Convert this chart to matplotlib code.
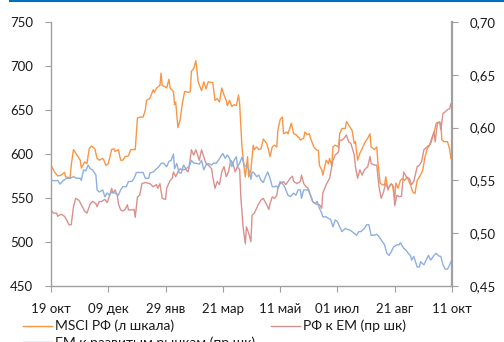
import pandas as pd
import matplotlib
matplotlib.use("Agg")
import matplotlib.pyplot as plt
from matplotlib.lines import Line2D

plt.rcParams['font.family'] = ['Lato', 'DejaVu Sans']

start = pd.Timestamp("2012-10-19")
end = pd.Timestamp("2013-10-11")

# MSCI Russia (left scale): day offset from start, value
msci_days = [0, 3, 6, 9, 12, 13, 17, 18, 20, 23, 26, 27, 30, 32, 34, 36, 39, 41, 43, 46,
             47, 49, 51, 54, 56, 57, 60, 62, 64, 66, 69, 71, 73, 75, 77, 80, 82, 84, 85,
             88, 91, 92, 94, 97, 98, 99, 102, 103, 105, 106, 109, 110, 111, 113, 115, 117,
             119, 123, 124, 125, 127, 129, 131, 134, 136, 138, 140, 144, 146, 148, 150, 152,
             154, 156, 157, 159, 161, 163, 165, 167, 168, 170, 172, 173, 175, 176, 178, 180,
             181, 183, 185, 187, 189, 192, 194, 195, 197, 199, 201, 202, 204, 206, 207, 210,
             211, 214, 216, 218, 221, 222, 225, 226, 228, 230, 231, 234, 236, 238, 239, 241,
             242, 245, 247, 248, 250, 251, 253, 256, 257, 259, 262, 263, 265, 266, 268, 270,
             271, 273, 275, 277, 279, 282, 284, 285, 288, 290, 291, 293, 295, 297, 298, 300,
             302, 304, 306, 307, 309, 311, 313, 315, 317, 320, 322, 324, 326, 329, 331, 333,
             335, 338, 340, 341, 343, 345, 347, 348, 350, 353, 355, 356]
msci_vals = [587, 580, 575, 576, 579, 574, 573, 587, 605, 599, 593, 584, 591, 589, 606, 609,
             606, 595, 593, 595, 593, 587, 589, 605, 606, 603, 605, 593, 593, 597, 598, 605,
             605, 605, 641, 642, 642, 650, 661, 663, 673, 670, 675, 678, 692, 678, 676, 675,
             685, 675, 671, 656, 659, 630, 639, 658, 671, 670, 671, 694, 697, 706, 682, 672,
             682, 674, 682, 681, 661, 663, 659, 675, 667, 661, 655, 661, 654, 656, 655, 667,
             656, 608, 584, 574, 597, 574, 582, 610, 605, 608, 605, 606, 617, 612, 603, 597,
             608, 610, 608, 627, 639, 642, 623, 625, 623, 635, 623, 622, 618, 616, 618, 625,
             622, 623, 618, 608, 605, 604, 587, 582, 576, 593, 589, 595, 586, 608, 610, 608,
             623, 629, 629, 637, 633, 631, 627, 612, 614, 593, 601, 606, 612, 618, 623, 608,
             605, 608, 591, 567, 565, 565, 574, 559, 565, 565, 548, 567, 561, 570, 572, 570,
             574, 565, 557, 555, 570, 576, 582, 597, 606, 612, 620, 624, 635, 636, 635, 616,
             614, 614, 605, 595]

# Russia vs EM (right scale)
rus_em_days = [0, 2, 5, 6, 9, 12, 14, 16, 18, 20, 22, 25, 27, 30, 32, 35, 37, 40, 41, 43,
               45, 48, 50, 52, 54, 55, 57, 59, 60, 62, 64, 66, 68, 69, 72, 74, 75, 77, 79,
               81, 84, 88, 91, 94, 95, 97, 99, 102, 103, 106, 108, 109, 111, 113, 115, 117,
               120, 122, 123, 125, 127, 129, 131, 132, 134, 137, 138, 140, 143, 144, 146, 148,
               150, 152, 154, 156, 158, 160, 162, 164, 166, 168, 169, 171, 173, 174, 176, 178,
               179, 181, 183, 185, 187, 189, 192, 194, 195, 197, 199, 201, 202, 204, 207, 209,
               211, 213, 215, 216, 219, 222, 223, 225, 227, 229, 231, 233, 236, 239, 241, 242,
               245, 247, 248, 250, 251, 253, 256, 257, 259, 261, 263, 265, 267, 270, 271, 273,
               275, 277, 279, 282, 284, 285, 288, 290, 292, 294, 296, 298, 300, 303, 305, 306,
               308, 310, 312, 314, 317, 319, 321, 323, 326, 328, 330, 332, 335, 337, 339, 341,
               342, 344, 346, 347, 349, 351, 353, 355, 356]
rus_em_vals = [0.522, 0.519, 0.519, 0.516, 0.518, 0.516, 0.5125, 0.508, 0.508, 0.525, 0.533,
               0.531, 0.527, 0.521, 0.519, 0.528, 0.530, 0.528, 0.525, 0.530, 0.530, 0.532,
               0.529, 0.535, 0.5425, 0.538, 0.541, 0.536, 0.528, 0.522, 0.521, 0.5225, 0.527,
               0.522, 0.522, 0.5225, 0.515, 0.5345, 0.536, 0.547, 0.548, 0.547, 0.544, 0.546,
               0.5425, 0.547, 0.533, 0.532, 0.5425, 0.550, 0.552, 0.558, 0.5535, 0.558, 0.561,
               0.560, 0.5605, 0.558, 0.563, 0.579, 0.574, 0.579, 0.5725, 0.569, 0.579, 0.569,
               0.566, 0.5645, 0.561, 0.5535, 0.5425, 0.549, 0.546, 0.558, 0.563, 0.5535, 0.558,
               0.569, 0.566, 0.558, 0.563, 0.560, 0.5345, 0.506, 0.490, 0.506, 0.500, 0.492,
               0.517, 0.519, 0.5235, 0.528, 0.5315, 0.533, 0.527, 0.5225, 0.528, 0.5345, 0.533,
               0.536, 0.5425, 0.547, 0.549, 0.546, 0.549, 0.552, 0.554, 0.549, 0.547, 0.549,
               0.555, 0.547, 0.544, 0.5425, 0.536, 0.530, 0.5275, 0.527, 0.5235, 0.538, 0.546,
               0.550, 0.552, 0.563, 0.569, 0.574, 0.577, 0.588, 0.588, 0.590, 0.593, 0.5865,
               0.585, 0.574, 0.563, 0.552, 0.560, 0.555, 0.560, 0.563, 0.5725, 0.566, 0.5645,
               0.5645, 0.544, 0.533, 0.539, 0.547, 0.5425, 0.547, 0.544, 0.526, 0.536, 0.5345,
               0.535, 0.558, 0.552, 0.552, 0.546, 0.549, 0.563, 0.5645, 0.568, 0.579, 0.582,
               0.5835, 0.590, 0.596, 0.5865, 0.604, 0.6055, 0.598, 0.6135, 0.615, 0.617, 0.618,
               0.6225]

# EM vs developed markets (right scale)
em_dm_days = [0, 3, 6, 8, 11, 14, 17, 20, 23, 26, 27, 29, 31, 33, 35, 37, 40, 41, 43, 46,
              48, 50, 52, 54, 57, 60, 62, 64, 67, 69, 72, 74, 76, 79, 82, 84, 87, 88, 91,
              94, 96, 98, 100, 103, 105, 107, 109, 110, 112, 114, 116, 118, 120, 123, 125,
              127, 130, 132, 134, 136, 138, 140, 143, 145, 147, 149, 151, 153, 155, 157, 159,
              161, 163, 165, 166, 168, 170, 172, 174, 176, 178, 179, 181, 183, 185, 187, 189,
              191, 193, 195, 197, 199, 201, 202, 204, 206, 208, 209, 211, 213, 216, 218, 220,
              222, 223, 225, 227, 229, 231, 233, 235, 237, 239, 241, 242, 245, 247, 249, 251,
              253, 255, 257, 259, 262, 264, 266, 268, 271, 272, 274, 276, 279, 281, 283, 285,
              288, 290, 292, 294, 297, 299, 301, 303, 305, 308, 310, 311, 314, 316, 318, 320,
              321, 323, 326, 328, 329, 332, 334, 336, 338, 341, 343, 345, 347, 349, 351, 353,
              355, 356]
em_dm_vals = [0.550, 0.5497, 0.550, 0.5465, 0.550, 0.552, 0.552, 0.5535, 0.552, 0.552, 0.550,
              0.560, 0.559, 0.5645, 0.561, 0.560, 0.555, 0.541, 0.539, 0.541, 0.5345, 0.538,
              0.536, 0.539, 0.538, 0.536, 0.541, 0.544, 0.544, 0.549, 0.549, 0.552, 0.5575,
              0.5575, 0.5575, 0.552, 0.552, 0.557, 0.558, 0.561, 0.563, 0.566, 0.5665, 0.563,
              0.568, 0.569, 0.575, 0.561, 0.566, 0.557, 0.557, 0.5645, 0.561, 0.563, 0.569,
              0.5665, 0.566, 0.5655, 0.569, 0.560, 0.5645, 0.566, 0.5645, 0.5665, 0.566, 0.569,
              0.5725, 0.5755, 0.571, 0.574, 0.571, 0.563, 0.569, 0.5725, 0.563, 0.5665, 0.572,
              0.5645, 0.563, 0.561, 0.551, 0.558, 0.557, 0.5535, 0.555, 0.550, 0.548, 0.5535,
              0.558, 0.552, 0.544, 0.544, 0.5447, 0.5425, 0.549, 0.547, 0.544, 0.541, 0.536,
              0.5345, 0.538, 0.536, 0.541, 0.541, 0.533, 0.541, 0.541, 0.541, 0.536, 0.530,
              0.528, 0.530, 0.5235, 0.519, 0.5155, 0.5155, 0.514, 0.513, 0.506, 0.5125, 0.511,
              0.506, 0.5015, 0.5045, 0.5035, 0.503, 0.5015, 0.499, 0.498, 0.5015, 0.5015,
              0.5045, 0.508, 0.508, 0.498, 0.498, 0.499, 0.4967, 0.4935, 0.489, 0.481, 0.479,
              0.4825, 0.487, 0.489, 0.489, 0.491, 0.4857, 0.484, 0.481, 0.479, 0.4745, 0.478,
              0.468, 0.468, 0.473, 0.470, 0.4745, 0.479, 0.4745, 0.479, 0.481, 0.4785, 0.478,
              0.470, 0.466, 0.466, 0.470, 0.473]

tick_dates = ["2012-10-19", "2012-12-09", "2013-01-29", "2013-03-21",
              "2013-05-11", "2013-07-01", "2013-08-21", "2013-10-11"]
tick_labels = ["19 окт", "09 дек", "29 янв", "21 мар", "11 май", "01 июл", "21 авг", "11 окт"]
left_ticks = [450, 500, 550, 600, 650, 700, 750]
right_ticks = [0.45, 0.50, 0.55, 0.60, 0.65, 0.70]

ORANGE = "#F79646"
RED = "#D9918E"
BLUE = "#8EB0DD"
GRAY = "#A0A0A0"
TXT = "#1a1a1a"


def to_dates(days):
    return start + pd.to_timedelta(days, unit="D")


fig = plt.figure(figsize=(5.04, 3.42), dpi=100)
ax = fig.add_axes([51 / 504, 1 - 286 / 342, 401 / 504, 264 / 342])
ax2 = ax.twinx()

l1, = ax.plot(to_dates(msci_days), msci_vals, color=ORANGE, lw=1.0)
l2, = ax2.plot(to_dates(rus_em_days), rus_em_vals, color=RED, lw=1.0)
l3, = ax2.plot(to_dates(em_dm_days), em_dm_vals, color=BLUE, lw=1.0)

ax.set_xlim(start, end)
ax.set_ylim(450, 750)
ax2.set_ylim(0.45, 0.70)

ax.set_yticks(left_ticks)
ax.set_yticklabels([str(v) for v in left_ticks])
ax2.set_yticks(right_ticks)
ax2.set_yticklabels([f"{v:.2f}".replace(".", ",") for v in right_ticks])
ax.set_xticks(pd.to_datetime(tick_dates))
ax.set_xticklabels(tick_labels)

for a in (ax, ax2):
    a.spines["top"].set_visible(False)
    for side in ("left", "right", "bottom"):
        a.spines[side].set_color(GRAY)
        a.spines[side].set_linewidth(1.0)
ax.spines["right"].set_visible(False)
ax2.spines["left"].set_visible(False)
ax2.spines["bottom"].set_visible(False)
ax2.spines["right"].set_linewidth(1.6)

ax.tick_params(axis="y", direction="out", length=4, color=GRAY, pad=9, labelsize=9.5, labelcolor=TXT)
ax.tick_params(axis="x", direction="out", length=4, color=GRAY, pad=8, labelsize=9.5, labelcolor=TXT)
ax2.tick_params(axis="y", direction="out", length=4, color=GRAY, pad=9, labelsize=9.5, labelcolor=TXT)

# top blue rule
fig.add_artist(Line2D([10 / 504, 1], [1 - 1 / 342, 1 - 1 / 342], color="#0070C0", lw=1.5))

leg_kw = dict(loc="upper left", frameon=False, fontsize=10, handlelength=2.1,
              handletextpad=0.2, labelspacing=0.25, borderpad=0, labelcolor=TXT)
fig.legend([l1, l3], ["MSCI РФ (л шкала)", "EM к развитым рынкам (пр шк)"],
           bbox_to_anchor=(16 / 504, 1 - 313 / 342), **leg_kw)
fig.legend([l2], ["РФ к EM (пр шк)"],
           bbox_to_anchor=(264 / 504, 1 - 313 / 342), **leg_kw)

fig.savefig("out.png", dpi=100)
